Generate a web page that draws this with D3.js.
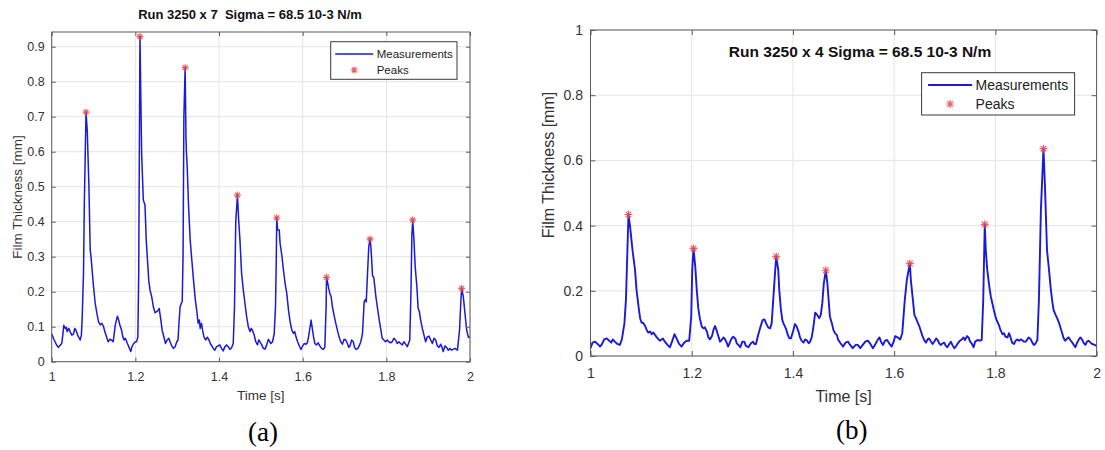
<!DOCTYPE html>
<html lang="en">
<head>
<meta charset="utf-8">
<script src="https://d3js.org/d3.v7.min.js"></script>
<style>
  body { margin: 0; background: #fff; }
  svg text { font-family: "Liberation Sans", Arial, sans-serif; }
</style>
</head>
<body>
<script>
// panel (a) : Run 3250 x 7
const timeA = [1.000,1.006,1.012,1.016,1.020,1.024,1.026,1.029,1.033,1.035,1.037,1.041,1.044,1.048,1.052,1.055,1.058,1.062,1.068,1.071,
  1.073,1.076,1.078,1.082,1.085,1.089,1.092,1.094,1.096,1.100,1.104,1.108,1.112,1.116,1.120,1.124,1.127,1.131,1.135,1.139,
  1.143,1.147,1.149,1.152,1.157,1.160,1.163,1.167,1.170,1.173,1.176,1.181,1.186,1.189,1.192,1.196,1.200,1.203,1.206,1.208,
  1.210,1.211,1.215,1.219,1.223,1.226,1.229,1.232,1.235,1.239,1.243,1.247,1.251,1.255,1.257,1.261,1.264,1.269,1.272,1.276,
  1.280,1.283,1.287,1.291,1.295,1.299,1.302,1.304,1.307,1.310,1.312,1.314,1.316,1.319,1.321,1.322,1.324,1.327,1.331,1.335,
  1.339,1.343,1.347,1.350,1.353,1.355,1.358,1.361,1.364,1.368,1.372,1.376,1.380,1.383,1.386,1.390,1.394,1.398,1.402,1.406,
  1.410,1.414,1.418,1.422,1.426,1.430,1.434,1.437,1.440,1.444,1.447,1.450,1.454,1.458,1.462,1.466,1.470,1.474,1.477,1.480,
  1.484,1.488,1.492,1.495,1.498,1.502,1.506,1.510,1.514,1.518,1.524,1.528,1.532,1.535,1.537,1.538,1.540,1.544,1.546,1.550,
  1.554,1.558,1.562,1.566,1.570,1.574,1.578,1.581,1.584,1.588,1.592,1.596,1.600,1.604,1.608,1.611,1.614,1.618,1.620,1.623,
  1.626,1.629,1.633,1.637,1.641,1.645,1.649,1.653,1.656,1.657,1.660,1.663,1.665,1.668,1.671,1.675,1.679,1.683,1.687,1.691,
  1.695,1.699,1.703,1.707,1.710,1.713,1.717,1.721,1.724,1.728,1.732,1.735,1.739,1.743,1.747,1.750,1.752,1.755,1.758,1.761,
  1.763,1.765,1.767,1.770,1.772,1.775,1.779,1.783,1.787,1.790,1.794,1.798,1.802,1.806,1.810,1.814,1.818,1.822,1.826,1.830,
  1.834,1.838,1.842,1.846,1.850,1.853,1.856,1.859,1.861,1.863,1.866,1.869,1.873,1.876,1.879,1.882,1.886,1.890,1.894,1.898,
  1.902,1.906,1.910,1.914,1.918,1.922,1.926,1.930,1.933,1.936,1.940,1.944,1.948,1.952,1.956,1.964,1.970,1.975,1.978,1.980,
  1.984,1.988,1.992,1.996,2.000];
const thickA = [0.079,0.062,0.047,0.041,0.047,0.052,0.071,0.104,0.094,0.098,0.086,0.095,0.086,0.076,0.079,0.095,0.090,0.076,0.062,0.076,
  0.129,0.252,0.450,0.713,0.660,0.500,0.320,0.300,0.271,0.214,0.167,0.138,0.114,0.105,0.110,0.100,0.086,0.071,0.057,0.064,
  0.062,0.057,0.076,0.105,0.130,0.119,0.105,0.090,0.071,0.062,0.067,0.052,0.038,0.029,0.043,0.052,0.057,0.057,0.071,0.250,
  0.700,0.929,0.595,0.462,0.448,0.348,0.290,0.233,0.205,0.186,0.157,0.140,0.143,0.148,0.152,0.119,0.090,0.067,0.052,0.062,
  0.067,0.057,0.045,0.038,0.043,0.057,0.062,0.105,0.157,0.167,0.172,0.300,0.700,0.840,0.640,0.600,0.555,0.450,0.348,0.290,
  0.233,0.181,0.143,0.110,0.119,0.095,0.110,0.088,0.071,0.062,0.070,0.062,0.050,0.045,0.038,0.033,0.043,0.045,0.048,0.038,
  0.031,0.043,0.048,0.043,0.035,0.040,0.052,0.157,0.400,0.476,0.405,0.348,0.252,0.205,0.167,0.129,0.100,0.086,0.095,0.090,
  0.076,0.057,0.048,0.062,0.057,0.048,0.038,0.036,0.048,0.064,0.052,0.057,0.081,0.157,0.300,0.411,0.376,0.376,0.338,0.305,
  0.262,0.224,0.195,0.148,0.114,0.090,0.081,0.086,0.071,0.057,0.045,0.035,0.045,0.052,0.050,0.054,0.071,0.102,0.119,0.095,
  0.071,0.052,0.048,0.054,0.045,0.038,0.035,0.041,0.157,0.241,0.224,0.205,0.195,0.186,0.157,0.133,0.110,0.090,0.071,0.057,
  0.050,0.064,0.062,0.052,0.041,0.045,0.062,0.057,0.041,0.035,0.038,0.045,0.057,0.081,0.171,0.178,0.171,0.252,0.329,0.350,
  0.329,0.290,0.245,0.241,0.219,0.186,0.152,0.119,0.090,0.067,0.062,0.057,0.062,0.057,0.054,0.057,0.067,0.062,0.052,0.057,
  0.052,0.048,0.057,0.050,0.043,0.052,0.062,0.205,0.360,0.405,0.348,0.271,0.214,0.152,0.143,0.119,0.095,0.076,0.057,0.071,
  0.073,0.062,0.052,0.067,0.062,0.045,0.041,0.050,0.041,0.029,0.045,0.041,0.033,0.038,0.033,0.038,0.033,0.090,0.170,0.2095,
  0.186,0.138,0.090,0.070,0.070];
const peakTimeA = [1.082, 1.211, 1.319, 1.444, 1.538, 1.657, 1.761, 1.863, 1.980];
const peakA = [0.713, 0.929, 0.840, 0.476, 0.411, 0.241, 0.350, 0.405, 0.2095];

// panel (b) : Run 3250 x 4
const timeB = [1.000,1.004,1.009,1.014,1.019,1.023,1.027,1.032,1.037,1.041,1.044,1.048,1.053,1.058,1.062,1.067,1.070,1.072,1.075,1.078,
  1.083,1.088,1.091,1.095,1.098,1.101,1.104,1.108,1.111,1.114,1.118,1.121,1.124,1.128,1.131,1.137,1.143,1.147,1.152,1.157,
  1.161,1.166,1.170,1.175,1.180,1.185,1.190,1.195,1.199,1.201,1.2035,1.207,1.210,1.213,1.216,1.220,1.223,1.226,1.230,1.233,
  1.236,1.240,1.243,1.246,1.249,1.253,1.256,1.259,1.263,1.266,1.269,1.272,1.276,1.279,1.282,1.286,1.289,1.292,1.296,1.300,
  1.304,1.307,1.312,1.317,1.321,1.324,1.327,1.330,1.335,1.340,1.344,1.347,1.351,1.355,1.358,1.361,1.365,1.367,1.371,1.373,
  1.376,1.379,1.382,1.386,1.390,1.393,1.396,1.401,1.404,1.407,1.411,1.414,1.417,1.421,1.424,1.427,1.431,1.434,1.437,1.440,
  1.444,1.448,1.452,1.455,1.458,1.461,1.465,1.468,1.471,1.473,1.477,1.480,1.483,1.487,1.489,1.494,1.499,1.504,1.509,1.513,
  1.518,1.524,1.528,1.533,1.538,1.543,1.548,1.553,1.558,1.563,1.568,1.571,1.574,1.578,1.582,1.586,1.591,1.595,1.599,1.602,
  1.607,1.612,1.616,1.618,1.621,1.625,1.631,1.633,1.637,1.640,1.643,1.646,1.650,1.653,1.656,1.660,1.663,1.666,1.669,1.673,
  1.676,1.679,1.683,1.686,1.689,1.692,1.696,1.699,1.702,1.705,1.709,1.712,1.715,1.719,1.722,1.725,1.730,1.734,1.737,1.740,
  1.744,1.747,1.750,1.753,1.757,1.760,1.765,1.769,1.773,1.776,1.779,1.781,1.784,1.788,1.791,1.794,1.797,1.801,1.804,1.807,
  1.810,1.814,1.817,1.820,1.824,1.827,1.830,1.833,1.837,1.840,1.843,1.847,1.850,1.853,1.856,1.860,1.863,1.866,1.870,1.873,
  1.876,1.879,1.883,1.886,1.890,1.895,1.898,1.902,1.906,1.909,1.912,1.915,1.919,1.922,1.925,1.929,1.932,1.935,1.938,1.942,
  1.945,1.948,1.952,1.955,1.958,1.961,1.965,1.968,1.971,1.975,1.978,1.981,1.984,1.988,1.991,1.996,2.000];
const thickB = [0.024,0.041,0.044,0.037,0.029,0.037,0.051,0.054,0.047,0.041,0.051,0.044,0.037,0.034,0.051,0.100,0.172,0.274,0.434,0.400,
  0.325,0.264,0.202,0.151,0.116,0.102,0.102,0.092,0.080,0.072,0.075,0.067,0.072,0.064,0.057,0.047,0.054,0.044,0.034,0.027,
  0.044,0.067,0.054,0.037,0.029,0.041,0.047,0.047,0.121,0.264,0.330,0.274,0.202,0.146,0.116,0.090,0.085,0.088,0.075,0.057,
  0.051,0.061,0.080,0.092,0.080,0.059,0.044,0.049,0.057,0.051,0.041,0.029,0.044,0.054,0.059,0.054,0.039,0.034,0.027,0.044,
  0.044,0.031,0.027,0.039,0.044,0.037,0.037,0.057,0.085,0.110,0.112,0.100,0.088,0.085,0.100,0.172,0.264,0.305,0.264,0.202,
  0.146,0.110,0.098,0.085,0.064,0.054,0.054,0.080,0.098,0.092,0.075,0.057,0.047,0.041,0.051,0.049,0.039,0.044,0.057,0.085,
  0.133,0.126,0.116,0.126,0.162,0.223,0.263,0.223,0.162,0.121,0.100,0.080,0.070,0.064,0.051,0.039,0.029,0.041,0.044,0.034,
  0.024,0.034,0.034,0.024,0.034,0.044,0.047,0.037,0.024,0.037,0.051,0.057,0.044,0.034,0.047,0.049,0.037,0.029,0.044,0.061,
  0.057,0.051,0.070,0.110,0.172,0.233,0.284,0.233,0.172,0.126,0.116,0.105,0.090,0.075,0.061,0.047,0.041,0.051,0.054,0.044,
  0.037,0.044,0.054,0.049,0.039,0.034,0.039,0.041,0.031,0.027,0.037,0.044,0.034,0.024,0.029,0.037,0.047,0.051,0.057,0.049,
  0.061,0.057,0.044,0.039,0.027,0.044,0.049,0.047,0.049,0.172,0.404,0.325,0.264,0.213,0.182,0.162,0.141,0.116,0.105,0.095,
  0.080,0.067,0.070,0.059,0.057,0.070,0.057,0.041,0.037,0.047,0.051,0.047,0.051,0.049,0.044,0.044,0.051,0.057,0.051,0.041,
  0.034,0.037,0.049,0.172,0.450,0.636,0.520,0.325,0.264,0.213,0.172,0.141,0.126,0.116,0.105,0.085,0.070,0.054,0.047,0.054,
  0.057,0.049,0.041,0.034,0.027,0.039,0.051,0.057,0.051,0.039,0.034,0.044,0.047,0.041,0.037,0.034,0.031];
const peakTimeB = [1.075, 1.2035, 1.367, 1.465, 1.631, 1.779, 1.895];
const peakB = [0.434, 0.330, 0.305, 0.263, 0.284, 0.404, 0.636];

const xTicks = [1, 1.2, 1.4, 1.6, 1.8, 2];
const yTicksA = [0, 0.1, 0.2, 0.3, 0.4, 0.5, 0.6, 0.7, 0.8, 0.9];
const yTicksB = [0, 0.2, 0.4, 0.6, 0.8, 1];

const svg = d3.select("body").append("svg")
  .attr("width", 1105)
  .attr("height", 450);

// MATLAB style '*' marker
function star(r) {
  const d = r * 0.7071;
  return `M${-r},0H${r}M0,${-r}V${r}M${-d},${-d}L${d},${d}M${-d},${d}L${d},${-d}`;
}

function drawPanel(p) {
  const w = p.right - p.left, h = p.bottom - p.top;
  const g = svg.append("g").attr("transform", `translate(${p.left},${p.top})`);
  const x = d3.scaleLinear().domain([1, 2]).range([0, w]);
  const y = d3.scaleLinear().domain([0, p.ymax]).range([h, 0]);

  // grid
  g.append("g").selectAll("line").data(xTicks).join("line")
    .attr("x1", d => x(d)).attr("x2", d => x(d))
    .attr("y1", 0).attr("y2", h)
    .attr("stroke", "#e4e4e4");
  g.append("g").selectAll("line").data(p.yTicks).join("line")
    .attr("x1", 0).attr("x2", w)
    .attr("y1", d => y(d)).attr("y2", d => y(d))
    .attr("stroke", "#e4e4e4");

  // measurements
  const line = d3.line().x(d => x(d[0])).y(d => y(d[1]));
  g.append("path")
    .datum(d3.zip(p.time, p.thick))
    .attr("fill", "none")
    .attr("stroke", "#1a1ad8")
    .attr("stroke-width", p.lw)
    .attr("stroke-linejoin", "round")
    .attr("d", line);

  // peaks
  g.append("g").selectAll("path").data(d3.zip(p.peakTime, p.peak)).join("path")
    .attr("transform", d => `translate(${x(d[0])},${y(d[1])})`)
    .attr("d", star(p.mr))
    .attr("stroke", "#e5474a")
    .attr("stroke-opacity", 0.85)
    .attr("stroke-width", 1.2)
    .attr("fill", "none");

  // axes, ticks inward on all four sides
  const fmt = d3.format("~g");
  const styleAxis = sel => {
    sel.select(".domain").remove();
    sel.selectAll(".tick line").attr("stroke", "#5a5a5a");
    sel.selectAll("text").attr("fill", "#333")
      .style("font-family", '"Liberation Sans", Arial, sans-serif')
      .style("font-size", p.tickFont + "px");
  };
  g.append("g").attr("transform", `translate(0,${h})`)
    .call(d3.axisBottom(x).tickValues(xTicks).tickFormat(fmt)
      .tickSizeInner(-p.tick).tickSizeOuter(0).tickPadding(p.padX))
    .call(styleAxis);
  g.append("g")
    .call(d3.axisLeft(y).tickValues(p.yTicks).tickFormat(fmt)
      .tickSizeInner(-p.tick).tickSizeOuter(0).tickPadding(p.padY))
    .call(styleAxis);
  g.append("g")
    .call(d3.axisTop(x).tickValues(xTicks).tickFormat("")
      .tickSizeInner(-p.tick).tickSizeOuter(0))
    .call(styleAxis);
  g.append("g").attr("transform", `translate(${w},0)`)
    .call(d3.axisRight(y).tickValues(p.yTicks).tickFormat("")
      .tickSizeInner(-p.tick).tickSizeOuter(0))
    .call(styleAxis);

  g.append("rect")
    .attr("width", w).attr("height", h)
    .attr("fill", "none")
    .attr("stroke", "#5a5a5a")
    .attr("stroke-width", 1);

  // axis labels
  g.append("text")
    .attr("x", w / 2).attr("y", h + p.xlabY)
    .attr("text-anchor", "middle")
    .attr("fill", "#333")
    .style("font-size", p.labFont + "px")
    .text("Time [s]");
  g.append("text")
    .attr("transform", `translate(${p.ylabX},${p.ylabC}) rotate(-90)`)
    .attr("text-anchor", "middle")
    .attr("fill", "#333")
    .style("font-size", p.labFont + "px")
    .text("Film Thickness [mm]");

  // title
  svg.append("text")
    .attr("x", p.titleX).attr("y", p.titleY)
    .attr("text-anchor", "middle")
    .attr("fill", "#111")
    .style("font-weight", "bold")
    .style("font-size", p.titleFont + "px")
    .style("white-space", "pre")
    .text(p.title);

  // legend
  const L = p.legend;
  const lg = svg.append("g").attr("transform", `translate(${L.x},${L.y})`);
  lg.append("rect")
    .attr("width", L.w).attr("height", L.h)
    .attr("fill", "#fff").attr("stroke", "#3a3a3a").attr("stroke-width", 1);
  lg.append("line")
    .attr("x1", L.lx0).attr("x2", L.lx1)
    .attr("y1", L.r1).attr("y2", L.r1)
    .attr("stroke", "#1a1ad8").attr("stroke-width", p.lw);
  lg.append("path")
    .attr("transform", `translate(${(L.lx0 + L.lx1) / 2},${L.r2})`)
    .attr("d", star(p.mr))
    .attr("stroke", "#e5474a").attr("stroke-opacity", 0.85)
    .attr("stroke-width", 1.2).attr("fill", "none");
  lg.selectAll("text.lab").data(["Measurements", "Peaks"]).join("text")
    .attr("class", "lab")
    .attr("x", L.tx)
    .attr("y", (d, i) => (i ? L.r2 : L.r1))
    .attr("dy", "0.35em")
    .attr("fill", "#222")
    .style("font-size", L.font + "px")
    .text(d => d);

  // sub-figure label
  svg.append("text")
    .attr("x", p.capX).attr("y", p.capY)
    .attr("text-anchor", "middle")
    .attr("fill", "#000")
    .style("font-family", '"Liberation Serif", "Times New Roman", serif')
    .style("font-size", "27px")
    .text(p.cap);
}

drawPanel({
  left: 51.7, right: 470, top: 32, bottom: 361.7, ymax: 0.942,
  time: timeA, thick: thickA, peakTime: peakTimeA, peak: peakA, yTicks: yTicksA,
  lw: 1.5, mr: 3.5, tick: 4, padX: 10, padY: 7, tickFont: 12.5, labFont: 13.5,
  xlabY: 38.5, ylabX: -30, ylabC: 165,
  title: "Run 3250 x 7  Sigma = 68.5 10-3 N/m", titleX: 250, titleY: 19, titleFont: 13,
  legend: {x: 330.7, y: 41.7, w: 126.3, h: 37.6, lx0: 4.5, lx1: 42.5, r1: 12.3, r2: 28.3, tx: 46, font: 11.5},
  cap: "(a)", capX: 263, capY: 441
});

drawPanel({
  left: 590.5, right: 1096.6, top: 30, bottom: 356, ymax: 1,
  time: timeB, thick: thickB, peakTime: peakTimeB, peak: peakB, yTicks: yTicksB,
  lw: 1.9, mr: 4, tick: 5, padX: 12, padY: 7.5, tickFont: 14, labFont: 16,
  xlabY: 46, ylabX: -37, ylabC: 135,
  title: "Run 3250 x 4 Sigma = 68.5 10-3 N/m", titleX: 860, titleY: 57, titleFont: 15.5,
  legend: {x: 921.6, y: 72.7, w: 153, h: 42.3, lx0: 6.5, lx1: 50.5, r1: 12.3, r2: 31.3, tx: 54, font: 14},
  cap: "(b)", capX: 851.7, capY: 439
});
</script>
</body>
</html>
